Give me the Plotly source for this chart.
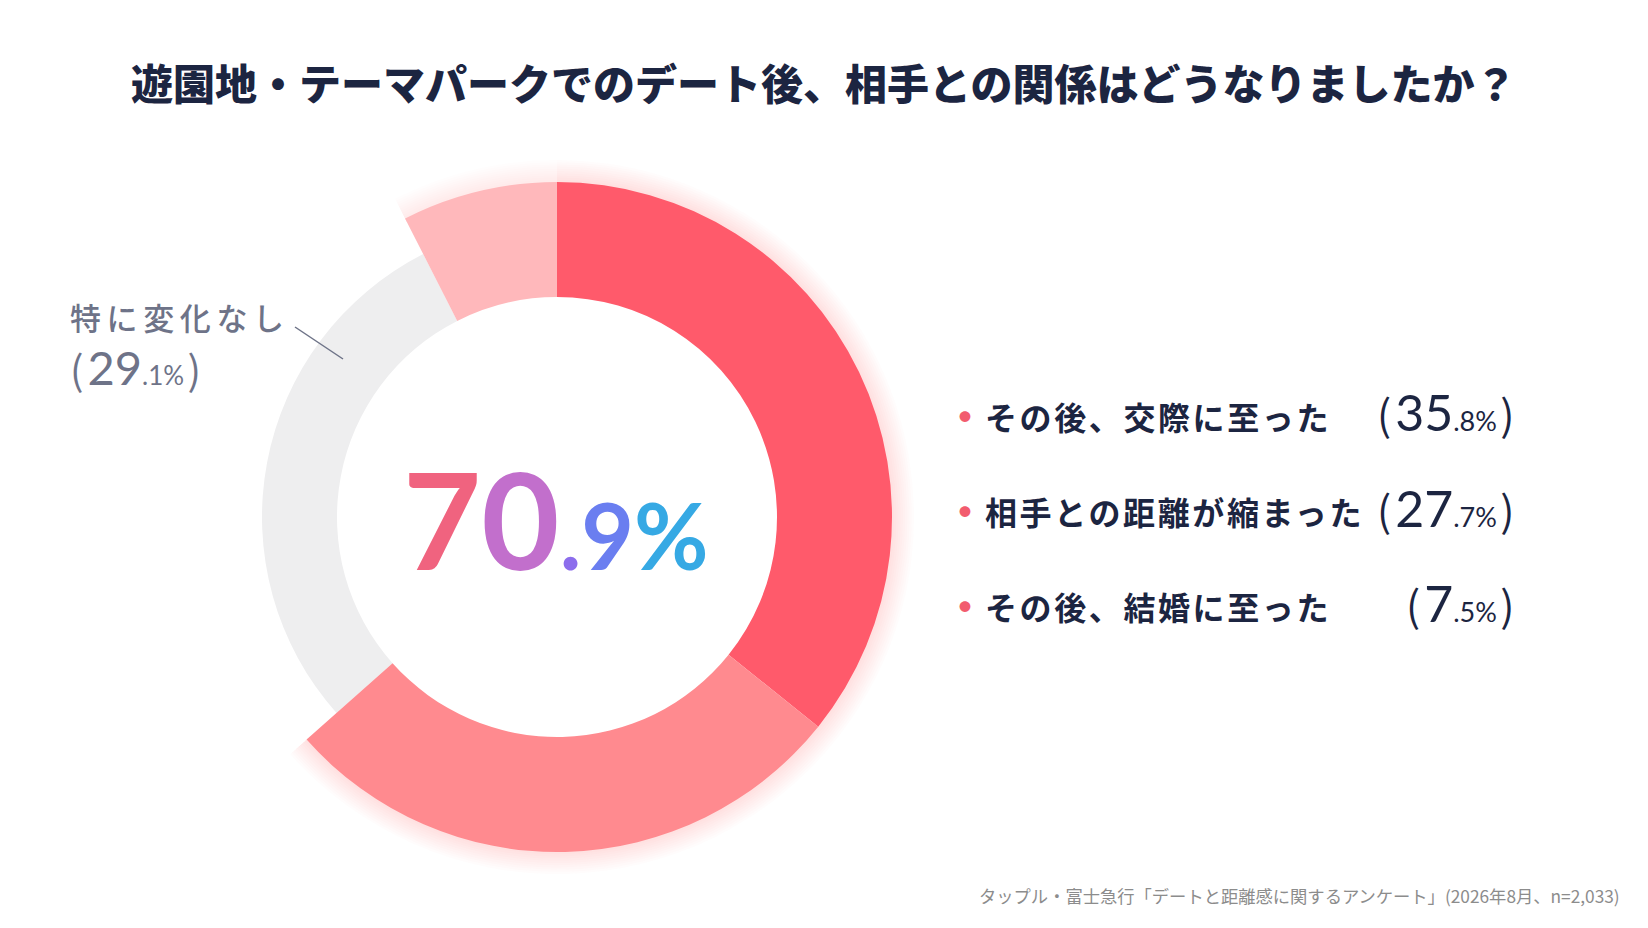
import plotly.graph_objects as go

# the page body keeps the browser's 8px margin, so the figure is drawn 8px in
OFF = 8
W, H = 1648 - 2 * OFF, 928 - 2 * OFF

title = "遊園地・テーマパークでのデート後、相手との関係はどうなりましたか？"
labels = ["その後、交際に至った", "相手との距離が縮まった", "特に変化なし", "その後、結婚に至った"]
values = [35.8, 27.7, 29.1, 7.5]
legend_rows = ["その後、交際に至った", "相手との距離が縮まった", "その後、結婚に至った"]
legend_vals = ["35.8", "27.7", "7.5"]
other_label = "特に変化なし"
other_val = "29.1"
total = "70.9"
source = "タップル・富士急行「デートと距離感に関するアンケート」(2026年8月、n=2,033)"

RED = "#FF5A6B"
MID = "#FF8A8F"
LIGHT = "#FFB8BB"
GRAY = "#EEEEEF"
NAVY = "#1C2541"
LABEL_GRAY = "#6E7388"
CLEAR = "rgba(0,0,0,0)"

FONT = "Noto Sans CJK JP"

# geometry in screen pixels
cx, cy = 557, 517
r_out, r_in, r_gray = 335, 220, 295


def px_domain(r):
    return dict(x=[(cx - r - OFF) / W, (cx + r - OFF) / W],
                y=[(H - (cy - OFF) - r) / H, (H - (cy - OFF) + r) / H])


def px(x, y):
    return (x - OFF) / W, 1 - (y - OFF) / H


def pct(val, big, small, paren):
    i, d = val.split(".")
    return (f"<span style='font-size:{paren}px;letter-spacing:4px'>(</span>"
            f"<span style='font-family:Lato;font-size:{big}px'>{i}</span>"
            f"<span style='font-family:Lato;font-size:{small}px'>.{d}%\u2009</span>"
            f"<span style='font-size:{paren}px'>)</span>")


fig = go.Figure()

# soft glow behind the coloured slices
for i in range(10, 0, -1):
    r = r_out + i * 2.2
    fig.add_trace(go.Pie(
        labels=labels, values=values, sort=False, direction="clockwise", rotation=0,
        hole=(r_out - 4) / r, domain=px_domain(r),
        marker=dict(colors=["rgba(255,90,107,0.018)", "rgba(255,110,115,0.018)",
                            CLEAR, "rgba(255,140,145,0.014)"],
                    line=dict(width=0)),
        textinfo="none", hoverinfo="skip", showlegend=False))

fig.add_trace(go.Pie(
    labels=labels, values=values, sort=False, direction="clockwise", rotation=0,
    hole=r_in / r_gray, domain=px_domain(r_gray),
    marker=dict(colors=[CLEAR, CLEAR, GRAY, CLEAR], line=dict(width=0)),
    textinfo="none", hoverinfo="skip", showlegend=False))

fig.add_trace(go.Pie(
    labels=labels, values=values, sort=False, direction="clockwise", rotation=0,
    hole=r_in / r_out, domain=px_domain(r_out),
    marker=dict(colors=[RED, MID, CLEAR, LIGHT], line=dict(width=0)),
    textinfo="none", hoverinfo="skip", showlegend=False))

ann = []
tx, ty = px(824, 82)
ann.append(dict(x=tx, y=ty, text=title, showarrow=False,
                font=dict(family=FONT, size=42, color=NAVY, weight=900),
                xanchor="center", yanchor="middle"))

# centre figure, coloured per character to hint at the gradient
grad = ["#F0637F", "#C26FCC", "#8C6DEC", "#6A7EF0", "#36A9E4"]
a, b = total.split(".")
center = (f"<span style='color:{grad[0]};font-size:135px'>{a[0]}</span>"
          f"<span style='color:{grad[1]};font-size:135px'>{a[1]}</span>"
          f"<span style='color:{grad[2]}'>.</span>"
          f"<span style='color:{grad[3]}'>{b}</span>"
          f"<span style='color:{grad[4]}'>%</span>")
mx, my = px(556, 518)
ann.append(dict(x=mx, y=my, text="<b>" + center + "</b>", showarrow=False,
                font=dict(family="Lato", size=91, color=grad[2]), xanchor="center", yanchor="middle"))

# legend rows
row_y = [416, 511, 606]
for name, val, yy in zip(legend_rows, legend_vals, row_y):
    bx, by = px(965, yy)
    ann.append(dict(x=bx, y=by, text="●", showarrow=False,
                    font=dict(family=FONT, size=12, color="#F25C6E"), xanchor="center", yanchor="middle"))
    lx, ly = px(983, yy)
    ann.append(dict(x=lx, y=ly, text=f"<span style='letter-spacing:2.6px'>{name}</span>",
                    showarrow=False, font=dict(family=FONT, size=32, color=NAVY, weight=700),
                    xanchor="left", yanchor="middle"))
    rx, ry = px(1516, yy - 3)
    ann.append(dict(x=rx, y=ry, text=pct(val, 50, 27, 42), showarrow=False,
                    font=dict(family=FONT, size=34, color=NAVY, weight=400),
                    xanchor="right", yanchor="middle"))

# outside label for the unchanged group
gx, gy = px(68, 316)
ann.append(dict(x=gx, y=gy, text=f"<span style='letter-spacing:5.6px'>{other_label}</span>",
                showarrow=False, font=dict(family=FONT, size=31, color=LABEL_GRAY, weight=500),
                xanchor="left", yanchor="middle"))
gx2, gy2 = px(68, 368)
ann.append(dict(x=gx2, y=gy2, text=pct(other_val, 47, 26, 40),
                showarrow=False, font=dict(family=FONT, size=34, color=LABEL_GRAY, weight=400),
                xanchor="left", yanchor="middle"))

sx, sy = px(1622, 895)
ann.append(dict(x=sx, y=sy, text=source, showarrow=False,
                font=dict(family=FONT, size=17.3, color="#8C8C8C"), xanchor="right", yanchor="middle"))

x0, y0 = px(295, 327)
x1, y1 = px(343, 359)
fig.add_shape(type="line", xref="paper", yref="paper", x0=x0, y0=y0, x1=x1, y1=y1,
              line=dict(color=LABEL_GRAY, width=1.5))

fig.update_layout(width=W, height=H, margin=dict(l=0, r=0, t=0, b=0),
                  paper_bgcolor="white", plot_bgcolor="white",
                  annotations=ann, showlegend=False)

fig.write_html("out.html")
